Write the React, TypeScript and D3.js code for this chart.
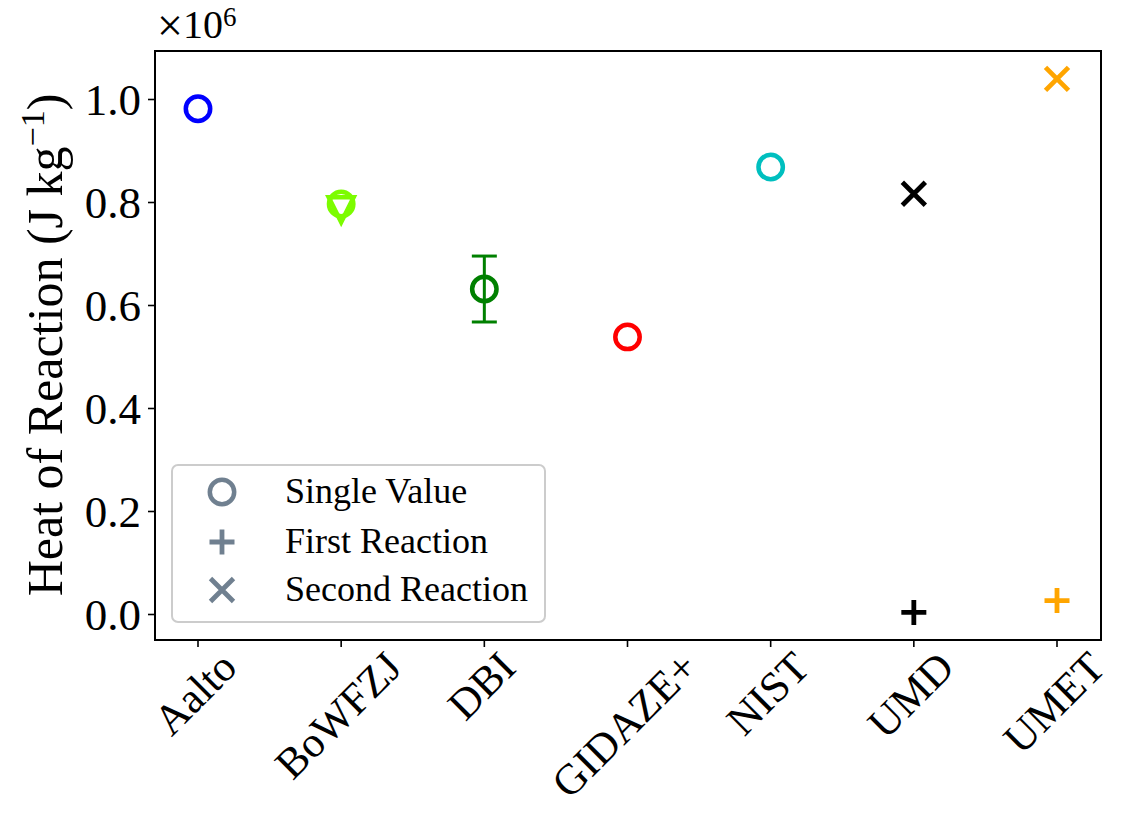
import React, { useEffect, useRef } from 'react';
import * as d3 from 'd3';

const labs = ['Aalto', 'BoWFZJ', 'DBI', 'GIDAZE+', 'NIST', 'UMD', 'UMET'];
const yTicks = [0, 0.2e6, 0.4e6, 0.6e6, 0.8e6, 1.0e6];

const singleLabs = ['Aalto', 'BoWFZJ', 'DBI', 'GIDAZE+', 'NIST'];
const singleVals = [0.982e6, 0.797e6, 0.632e6, 0.539e6, 0.869e6];
const singleColors = ['#0000ff', '#7cfc00', '#008000', '#ff0000', '#00bfbf'];

const triLabs = ['BoWFZJ'];
const triVals = [0.786e6];
const triColors = ['#7cfc00'];

const errLabs = ['DBI'];
const errLow = [0.568e6];
const errHigh = [0.696e6];
const errColors = ['#008000'];

const firstLabs = ['UMD', 'UMET'];
const firstVals = [0.004e6, 0.027e6];
const firstColors = ['#000000', '#ffa500'];

const secondLabs = ['UMD', 'UMET'];
const secondVals = [0.817e6, 1.04e6];
const secondColors = ['#000000', '#ffa500'];

const legendLabels = ['Single Value', 'First Reaction', 'Second Reaction'];
const legendColor = '#708090';

const FONT = '"Liberation Serif", "DejaVu Serif", serif';

export default function App() {
  const ref = useRef<SVGSVGElement>(null);
  useEffect(() => {
    const svg = d3.select(ref.current);
    svg.selectAll('*').remove();
    const L = 155, R = 1101, T = 51, B = 640;
    const x = d3.scalePoint<string>().domain(labs).range([198, 1057]);
    const y = d3.scaleLinear().domain([0, 1e6]).range([614.5, 99.5]);

    const g = svg.append('g');

    // y axis ticks & labels
    const yax = g.append('g');
    yTicks.forEach((t) => {
      yax.append('line').attr('x1', L - 7).attr('x2', L).attr('y1', y(t)).attr('y2', y(t))
        .attr('stroke', '#000').attr('stroke-width', 1.6);
      yax.append('text').attr('x', L - 14).attr('y', y(t)).attr('dy', '0.35em')
        .attr('text-anchor', 'end').attr('font-family', FONT).attr('font-size', 45)
        .text((t / 1e6).toFixed(1));
    });
    // x ticks
    labs.forEach((l) => {
      g.append('line').attr('x1', x(l)!).attr('x2', x(l)!).attr('y1', B).attr('y2', B + 7)
        .attr('stroke', '#000').attr('stroke-width', 1.6);
      const txt = g.append('text').attr('font-family', FONT).attr('font-size', 43)
        .attr('text-anchor', 'middle').attr('dominant-baseline', 'central').text(l);
      const w = (txt.node() as SVGTextElement).getComputedTextLength();
      const h = 30;
      const half = (w + h) * Math.SQRT1_2 / 2;
      const cx = x(l)! - 3, cy = 649 + half;
      txt.attr('transform', `translate(${cx},${cy}) rotate(-45)`);
    });

    // y label
    const yl = g.append('text').attr('font-family', FONT).attr('font-size', 50)
      .attr('text-anchor', 'middle')
      .attr('transform', `translate(62,345) rotate(-90)`);
    yl.append('tspan').text('Heat of Reaction (J kg');
    yl.append('tspan').attr('dy', -18).attr('font-size', 34).text('\u22121');
    yl.append('tspan').attr('dy', 18).text(')');

    // multiplier
    const m = g.append('text').attr('font-family', FONT).attr('font-size', 40).attr('x', 157).attr('y', 38);
    m.append('tspan').attr('font-size', 46).attr('dy', 3).text('\u00d7');
    m.append('tspan').attr('dy', -3).text('10');
    m.append('tspan').attr('dy', -12).attr('font-size', 27).text('6');

    // error bars
    errLabs.forEach((l, i) => {
      const cx = x(l)!;
      const c = errColors[i];
      g.append('line').attr('x1', cx).attr('x2', cx).attr('y1', y(errLow[i])).attr('y2', y(errHigh[i]))
        .attr('stroke', c).attr('stroke-width', 3);
      [errLow[i], errHigh[i]].forEach((v) => {
        g.append('line').attr('x1', cx - 12.5).attr('x2', cx + 12.5).attr('y1', y(v)).attr('y2', y(v))
          .attr('stroke', c).attr('stroke-width', 3);
      });
    });

    // single value circles
    singleLabs.forEach((l, i) => {
      g.append('circle').attr('cx', x(l)!).attr('cy', y(singleVals[i])).attr('r', 12.2)
        .attr('fill', 'none').attr('stroke', singleColors[i]).attr('stroke-width', 4.5);
    });

    // triangles (down)
    triLabs.forEach((l, i) => {
      const cx = x(l)!, cy = y(triVals[i]);
      const s = 12.5;
      const tri = d3.line()([[cx - s, cy - s], [cx + s, cy - s], [cx, cy + s]]) + 'Z';
      g.append('path').attr('d', tri).attr('fill', 'none').attr('stroke', triColors[i])
        .attr('stroke-width', 4.5).attr('stroke-linejoin', 'miter');
    });

    const plus = (gg: any, cx: number, cy: number, c: string, s: number, sw: number) => {
      gg.append('path').attr('d', `M${cx - s},${cy}L${cx + s},${cy}M${cx},${cy - s}L${cx},${cy + s}`)
        .attr('stroke', c).attr('stroke-width', sw).attr('fill', 'none');
    };
    const cross = (gg: any, cx: number, cy: number, c: string, s: number, sw: number) => {
      gg.append('path').attr('d', `M${cx - s},${cy - s}L${cx + s},${cy + s}M${cx - s},${cy + s}L${cx + s},${cy - s}`)
        .attr('stroke', c).attr('stroke-width', sw).attr('fill', 'none');
    };
    firstLabs.forEach((l, i) => plus(g, x(l)!, y(firstVals[i]), firstColors[i], 12.5, 4.8));
    secondLabs.forEach((l, i) => cross(g, x(l)!, y(secondVals[i]), secondColors[i], 11.5, 4.8));

    // legend
    const lg = g.append('g');
    lg.append('rect').attr('x', 172).attr('y', 465).attr('width', 373).attr('height', 157)
      .attr('rx', 6).attr('fill', 'rgba(255,255,255,0.8)').attr('stroke', '#cccccc').attr('stroke-width', 2);
    const ly = [492, 542, 590];
    lg.append('circle').attr('cx', 222).attr('cy', ly[0]).attr('r', 12.2).attr('fill', 'none')
      .attr('stroke', legendColor).attr('stroke-width', 4.5);
    plus(lg, 222, ly[1], legendColor, 12.5, 4.8);
    cross(lg, 222, ly[2], legendColor, 11.5, 4.8);
    legendLabels.forEach((t, i) => {
      lg.append('text').attr('x', 285).attr('y', ly[i] + 11).attr('font-family', FONT)
        .attr('font-size', 36).text(t);
    });

    // spines
    g.append('rect').attr('x', L).attr('y', T).attr('width', R - L).attr('height', B - T)
      .attr('fill', 'none').attr('stroke', '#000').attr('stroke-width', 2);
  }, []);
  return (
    <svg ref={ref} width={1127} height={813}
      style={{ position: 'absolute', left: 0, top: 0, background: '#fff' }} />
  );
}
